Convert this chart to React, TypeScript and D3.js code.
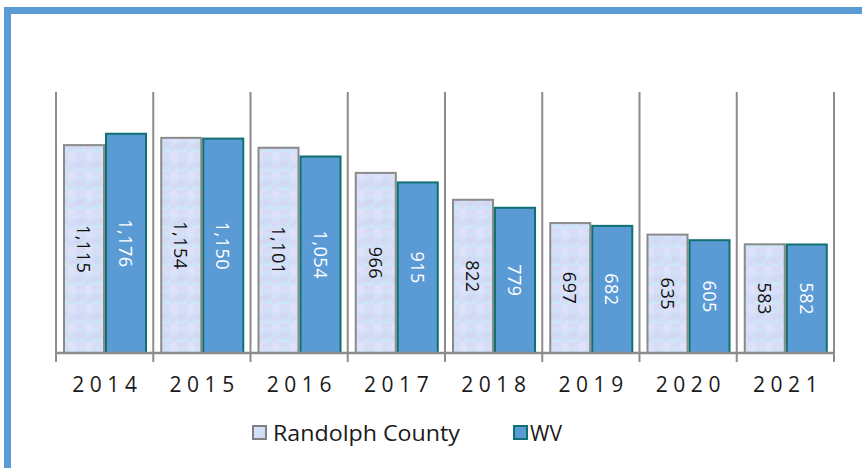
import React from "react";
import * as d3 from "d3";

const years = ["2014", "2015", "2016", "2017", "2018", "2019", "2020", "2021"];
const randolph = [1115, 1154, 1101, 966, 822, 697, 635, 583];
const wv = [1176, 1150, 1054, 915, 779, 682, 605, 582];
const seriesNames = ["Randolph County", "WV"];

const W = 862;
const H = 468;

export default function App() {
  const plotLeft = 56;
  const plotRight = 834;
  const plotTop = 92;
  const plotBottom = 353;

  const x = d3.scaleBand<string>().domain(years).range([plotLeft, plotRight]).padding(0);
  const bw = x.bandwidth();
  const inner = d3
    .scaleBand<string>()
    .domain(seriesNames)
    .range([bw * 0.072, bw * 0.936])
    .padding(0);
  const y = d3.scaleLinear().domain([0, 1400]).range([plotBottom, plotTop]);
  const fmt = d3.format(",");

  const boundaries = years.map((yv) => x(yv) as number).concat([plotRight]);

  const labelFont = "'Open Sans', 'DejaVu Sans', sans-serif";

  return (
    <svg width={W} height={H} style={{ position: "absolute", left: 0, top: 0, background: "#fff" }}>
      <defs>
        <linearGradient id="rcFill" x1="0" y1="0" x2="0.3" y2="1">
          <stop offset="0%" stopColor="#d4e5fb" />
          <stop offset="30%" stopColor="#dad9f5" />
          <stop offset="55%" stopColor="#d0e3f8" />
          <stop offset="80%" stopColor="#d9d7f4" />
          <stop offset="100%" stopColor="#cce8f7" />
        </linearGradient>
        <pattern id="rcTex" width="17" height="19" patternUnits="userSpaceOnUse">
          <rect width="17" height="19" fill="url(#rcFill)" />
          <circle cx="4" cy="5" r="4" fill="#e6e8fb" opacity="0.5" />
          <circle cx="12" cy="13" r="4.5" fill="#c8d3f1" opacity="0.35" />
        </pattern>
        <linearGradient id="rcLegend" x1="0" y1="0" x2="1" y2="1">
          <stop offset="0%" stopColor="#d8e6fb" />
          <stop offset="100%" stopColor="#cbd9f7" />
        </linearGradient>
      </defs>

      {/* outer frame */}
      <rect x={7.5} y={10.5} width={W + 20} height={H + 20} fill="none" stroke="#5b9bd5" strokeWidth={7} />

      {/* vertical grid / category separators */}
      {boundaries.map((bx, i) => (
        <line key={"g" + i} x1={bx} x2={bx} y1={plotTop} y2={plotBottom + 9} stroke="#8c8c8c" strokeWidth={2} />
      ))}

      {/* bars */}
      {years.map((yr, i) => {
        const x0 = x(yr) as number;
        const vals = [randolph[i], wv[i]];
        return (
          <g key={yr}>
            {vals.map((v, j) => {
              const bx = x0 + (inner(seriesNames[j]) as number);
              const ww = inner.bandwidth();
              const top = y(v);
              const cx = bx + ww / 2;
              const cy = (top + plotBottom) / 2;
              return (
                <g key={j}>
                  <rect
                    x={bx + 1}
                    y={top}
                    width={ww - 2}
                    height={plotBottom - top}
                    fill={j === 0 ? "url(#rcTex)" : "#5b9bd5"}
                    stroke={j === 0 ? "#8a8a8a" : "#0f7070"}
                    strokeWidth={2}
                  />
                  <text
                    transform={`translate(${cx},${cy}) rotate(90)`}
                    textAnchor="middle"
                    dominantBaseline="central"
                    fontFamily={labelFont}
                    fontSize={18}
                    letterSpacing={0.5}
                    fill={j === 0 ? "#111" : "#fff"}
                  >
                    {fmt(v)}
                  </text>
                </g>
              );
            })}
          </g>
        );
      })}

      {/* baseline */}
      <line x1={plotLeft} x2={plotRight} y1={plotBottom} y2={plotBottom} stroke="#8c8c8c" strokeWidth={2.5} />

      {/* year labels */}
      {years.map((yr) => (
        <text
          key={"l" + yr}
          x={(x(yr) as number) + bw / 2 + 2.75}
          y={392}
          textAnchor="middle"
          fontFamily={labelFont}
          fontSize={21}
          letterSpacing={5.5}
          fill="#1a1a1a"
        >
          {yr}
        </text>
      ))}

      {/* legend */}
      <g>
        <rect x={253} y={426} width={13} height={13} fill="url(#rcLegend)" stroke="#808080" strokeWidth={2} />
        <text x={273} y={441} fontFamily={labelFont} fontSize={21} fill="#1a1a1a" textLength={187} lengthAdjust="spacingAndGlyphs">
          {seriesNames[0]}
        </text>
        <rect x={514} y={426} width={13} height={13} fill="#5b9bd5" stroke="#0f7070" strokeWidth={2} />
        <text x={530} y={441} fontFamily={labelFont} fontSize={21} fill="#1a1a1a">
          {seriesNames[1]}
        </text>
      </g>
    </svg>
  );
}
